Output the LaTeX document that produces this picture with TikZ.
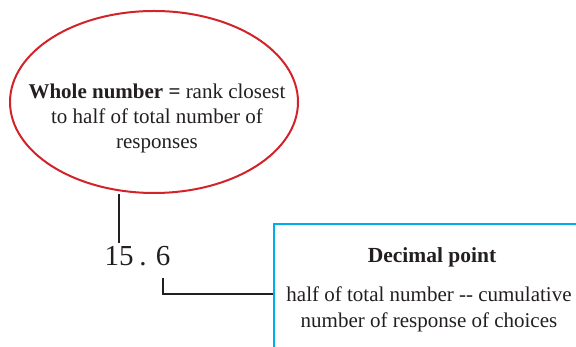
\documentclass[tikz,border=0pt]{standalone}
\usepackage{fontspec}
\setmainfont{Liberation Serif}
\usetikzlibrary{shapes.geometric}
\definecolor{ellred}{HTML}{D2232A}
\definecolor{boxblue}{HTML}{00AEEF}
\definecolor{ink}{HTML}{231F20}
\begin{document}
\begin{tikzpicture}[x=1pt, y=1pt, line width=2pt,
  oval/.style={ellipse, draw=ellred, minimum width=288pt, minimum height=182pt, inner sep=0pt},
  frame/.style={draw=boxblue, minimum width=330pt, minimum height=160pt, inner sep=0pt},
  lbl/.style={align=center, font=\fontsize{21}{25}\selectfont, text=ink},
  digit/.style={font=\fontsize{29}{30}\selectfont, text=ink, inner sep=3pt, anchor=base}]
\useasboundingbox (0,0) rectangle (576,347);
\clip (0,0) rectangle (576,347);
\node[oval](W) at (154,245){};
\node[lbl](Wt) at (157,229){\textbf{Whole number =} rank closest\\to half of total number of\\responses};
\node[digit](N1) at (119,81){15};
\node[digit](Nd) at (143,81){.};
\node[digit](N6) at (163,81){6};
\node[frame](B) at (439,43){};
\node[lbl, font=\fontsize{21.5}{26}\selectfont\bfseries, anchor=base](Dh) at (432,84){Decimal point};
\node[lbl, font=\fontsize{21}{26}\selectfont](Dt) at (429,38){half of total number -{}- cumulative\\number of response of choices};
\coordinate (J) at (B.west |- 0,53);
\draw[ink](N1.north |- W.south)--(N1.north);
\draw[ink]([yshift=-8pt]N6.south)|-(J);
\end{tikzpicture}
\end{document}
